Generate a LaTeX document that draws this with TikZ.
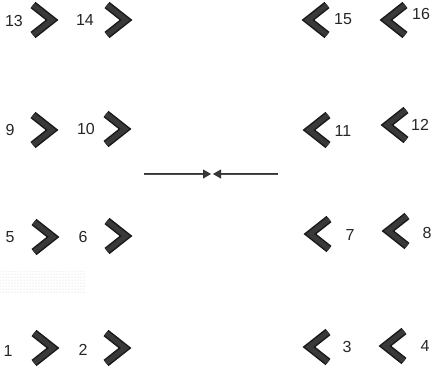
\documentclass[tikz,border=0pt]{standalone}
\usepackage{fontspec}
\setmainfont{Liberation Sans}
\usetikzlibrary{arrows.meta,patterns}
\begin{document}
\tikzset{
  lab/.style={font=\fontsize{16}{16}\selectfont, inner sep=0pt, text=black!85},
  chevout/.style={draw=black!90, line width=8pt, line join=miter},
  chevin/.style={draw=gray!45!black, line width=5pt, line join=miter},
  shaft/.style={draw=black!80, double=gray!60!black, double distance=0.8pt, line width=0.7pt},
  tip/.style={-{Triangle[length=8pt,width=9pt,fill=gray!45!black,line width=0.8pt]}}
}
\newcommand{\rchev}[2]{%
  \draw[chevout] (#1-11,#2-15) -- (#1+8,#2) -- (#1-11,#2+15);
  \draw[chevin] (#1-11,#2-15) -- (#1+8,#2) -- (#1-11,#2+15);}
\newcommand{\lchev}[2]{%
  \draw[chevout] (#1+11,#2-15) -- (#1-8,#2) -- (#1+11,#2+15);
  \draw[chevin] (#1+11,#2-15) -- (#1-8,#2) -- (#1+11,#2+15);}
\begin{tikzpicture}[x=1pt,y=-1pt]
\useasboundingbox (0,0) rectangle (436,370);
% noise patch
\fill[pattern=dots, pattern color=gray!40] (0,271) rectangle (85,292);
% chevrons
\rchev{44}{20} \rchev{118}{20} \lchev{316}{20} \lchev{394}{20}
\rchev{44}{130} \rchev{117}{129} \lchev{317}{130} \lchev{395}{125}
\rchev{45}{237} \rchev{118}{236} \lchev{318}{234} \lchev{396}{231}
\rchev{45}{348} \rchev{117}{348} \lchev{317}{347} \lchev{393}{346}
% labels
\node[lab] (l13) at (14,21) {13};
\node[lab] (l14) at (85,20) {14};
\node[lab] (l15) at (343,19) {15};
\node[lab] (l16) at (421,14) {16};
\node[lab] (l9) at (10,130) {9};
\node[lab] (l10) at (86,129) {10};
\node[lab] (l11) at (343,131) {11};
\node[lab] (l12) at (420,125) {12};
\node[lab] (l5) at (10,237) {5};
\node[lab] (l6) at (83,237) {6};
\node[lab] (l7) at (350,235) {7};
\node[lab] (l8) at (427,233) {8};
\node[lab] (l1) at (8,351) {1};
\node[lab] (l2) at (83,350) {2};
\node[lab] (l3) at (347,347) {3};
\node[lab] (l4) at (425,346) {4};
% central arrows
\coordinate (A) at (144,174);
\coordinate (B) at (278,174);
\coordinate (MA) at (211,174);
\coordinate (MB) at (213,174);
\draw[shaft, tip] (A) -- (MA);
\draw[shaft, tip] (B) -- (MB);
\end{tikzpicture}
\end{document}
